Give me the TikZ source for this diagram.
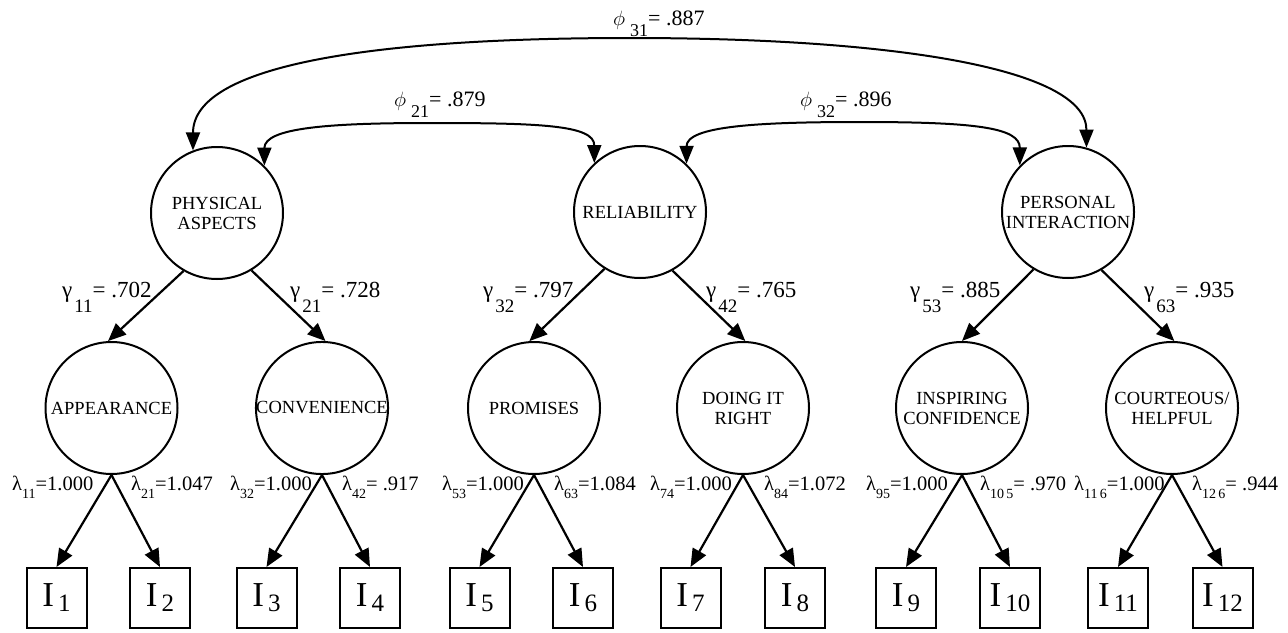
\documentclass[tikz,border=0pt]{standalone}
\usepackage{fontspec}
\setmainfont{Liberation Serif}
\usetikzlibrary{arrows.meta}
\newcommand\glab[3]{{\fontsize{23}{23}\selectfont #1\hspace{2pt}\raisebox{-15pt}{\fontsize{19}{19}\selectfont #2}= #3}}
\newcommand\llab[2]{{\fontsize{20.5}{20.5}\selectfont λ\raisebox{-8pt}{\fontsize{14}{14}\selectfont #1}=#2}}
\newcommand\plab[2]{{\fontsize{22}{22}\selectfont $\phi$\hspace{5pt}\raisebox{-11pt}{\fontsize{18}{18}\selectfont #1}= #2}}
\newcommand\ilab[1]{{\fontsize{35}{35}\selectfont I\hspace{4pt}\raisebox{-5pt}{\fontsize{25}{25}\selectfont #1}}}
\begin{document}
\begin{tikzpicture}[x=1pt,y=-1pt,
  lat/.style={circle, draw, line width=2pt, minimum size=132pt, inner sep=0pt, align=center, font=\fontsize{18.5}{20}\selectfont},
  obs/.style={rectangle, draw, line width=2pt, minimum size=60pt, inner sep=0pt},
  arr/.style={-{Triangle[length=18pt,width=15pt]}, line width=2.2pt},
  darr/.style={{Triangle[length=18pt,width=14pt]}-{Triangle[length=18pt,width=14pt]}, line width=2pt},
  lbl/.style={anchor=base west, inner sep=0pt}]
\useasboundingbox[fill=white] (0,0) rectangle (1288,632);
% second-order factors
\node[lat] (PA) at (217,213) {PHYSICAL\\ASPECTS};
\node[lat] (RE) at (640,212) {RELIABILITY};
\node[lat] (PI) at (1068,212) {PERSONAL\\INTERACTION};
% first-order factors
\node[lat] (AP) at (111.5,408) {APPEARANCE};
\node[lat] (CO) at (322,408) {CONVENIENCE};
\node[lat] (PR) at (534,408) {PROMISES};
\node[lat] (DO) at (743,408) {DOING IT\\RIGHT};
\node[lat] (IN) at (962,408) {INSPIRING\\CONFIDENCE};
\node[lat] (CT) at (1172,408) {COURTEOUS/\\HELPFUL};
% indicators
\node[obs] (I1) at (56.5,598) {\ilab{1}};
\node[obs] (I2) at (160,598) {\ilab{2}};
\node[obs] (I3) at (266.5,598) {\ilab{3}};
\node[obs] (I4) at (370,598) {\ilab{4}};
\node[obs] (I5) at (479.5,598) {\ilab{5}};
\node[obs] (I6) at (583,598) {\ilab{6}};
\node[obs] (I7) at (690.5,598) {\ilab{7}};
\node[obs] (I8) at (795,598) {\ilab{8}};
\node[obs] (I9) at (906,598) {\ilab{9}};
\node[obs] (I10) at (1010,598) {\ilab{10}};
\node[obs] (I11) at (1118,598) {\ilab{11}};
\node[obs] (I12) at (1222.5,598) {\ilab{12}};
% correlations
\draw[darr] (PA.111) .. controls +(0,-85) and (370,38) .. (630,38) .. controls (890,38) and +(0,-80) .. (PI.74);
\draw[darr] (PA.45) .. controls +(0,-38) and (330,123) .. (430,123) .. controls (540,123) and +(0,-38) .. (RE.133);
\draw[darr] (RE.46) .. controls +(0,-38) and (760,122) .. (860,122) .. controls (975,122) and +(0,-38) .. (PI.136);
\node[lbl] (p31) at (613,25) {\plab{31}{.887}};
\node[lbl] (p21) at (394,106) {\plab{21}{.879}};
\node[lbl] (p32) at (800,106) {\plab{32}{.896}};
% gamma paths
\draw[arr] (PA.-120) -- (AP.93);
\draw[arr] (PA.-59) -- (CO.87);
\draw[arr] (RE.-122) -- (PR.94);
\draw[arr] (RE.-61) -- (DO.88);
\draw[arr] (PI.-121) -- (IN.90);
\draw[arr] (PI.-60) -- (CT.88);
\node[lbl] (g11) at (62,297) {\glab{γ}{11}{.702}};
\node[lbl] (g21) at (290,297) {\glab{γ}{21}{.728}};
\node[lbl] (g32) at (483,297) {\glab{γ}{32}{.797}};
\node[lbl] (g42) at (706,297) {\glab{γ}{42}{.765}};
\node[lbl] (g53) at (910,297) {\glab{γ}{53}{.885}};
\node[lbl] (g63) at (1144,297) {\glab{γ}{63}{.935}};
% lambda paths
\foreach \f/\a/\b in {AP/I1/I2, CO/I3/I4, PR/I5/I6, DO/I7/I8, IN/I9/I10, CT/I11/I12}{
  \draw[arr] (\f.south) -- (\a.north);
  \draw[arr] (\f.south) -- (\b.north);
}
\node[lbl] (l11) at (12,490) {\llab{11}{1.000}};
\node[lbl] (l21) at (131,490) {\llab{21}{1.047}};
\node[lbl] (l32) at (230,490) {\llab{32}{1.000}};
\node[lbl] (l42) at (342,490) {\llab{42}{ .917}};
\node[lbl] (l53) at (442,490) {\llab{53}{1.000}};
\node[lbl] (l63) at (554,490) {\llab{63}{1.084}};
\node[lbl] (l74) at (650,490) {\llab{74}{1.000}};
\node[lbl] (l84) at (764,490) {\llab{84}{1.072}};
\node[lbl] (l95) at (866,490) {\llab{95}{1.000}};
\node[lbl] (l105) at (980,490) {\llab{10\,5}{ .970}};
\node[lbl] (l116) at (1074,490) {\llab{11\,6}{1.000}};
\node[lbl] (l126) at (1192,490) {\llab{12\,6}{ .944}};
\end{tikzpicture}
\end{document}
